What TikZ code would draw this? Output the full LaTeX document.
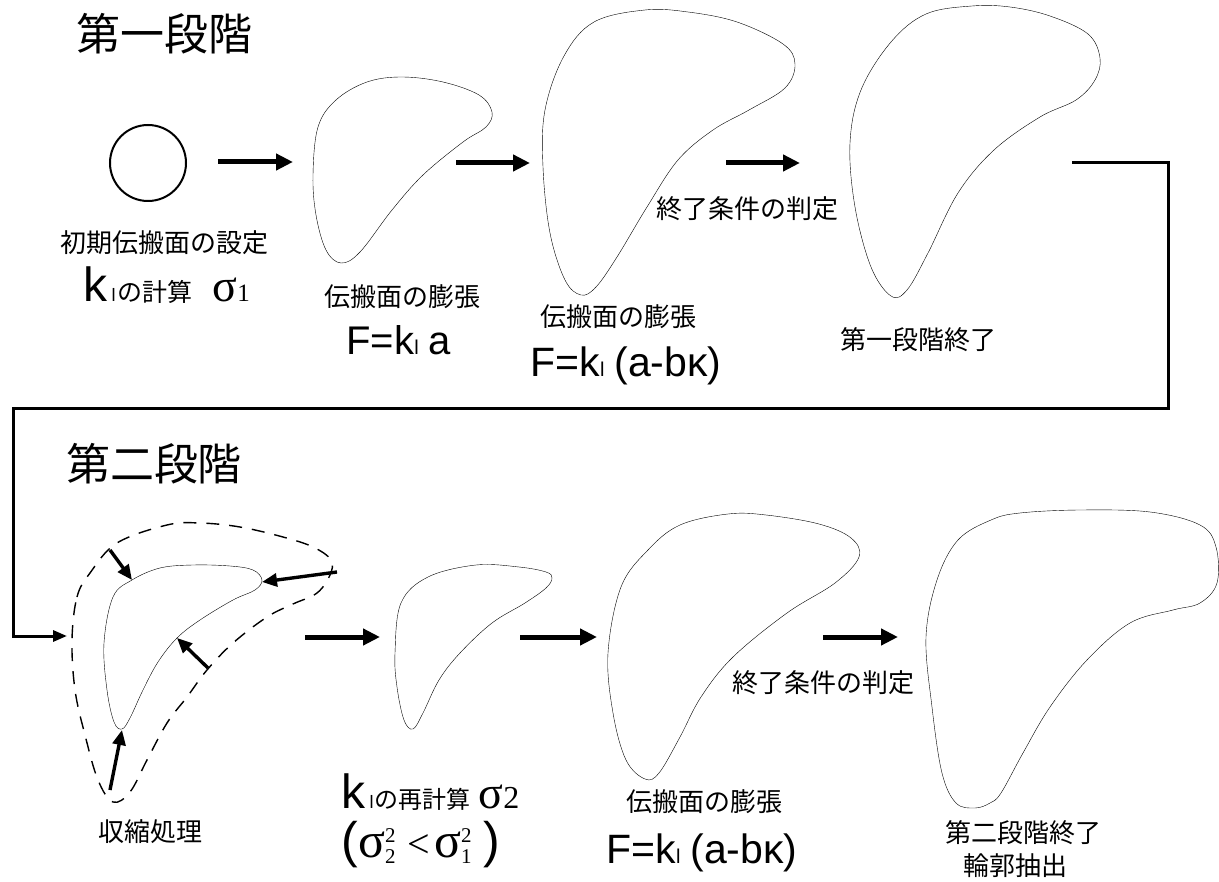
\documentclass[tikz,border=0pt]{standalone}
\usepackage{fontspec}
\usepackage{graphicx}
\usepackage{tikz}
\usetikzlibrary{arrows.meta}
\setmainfont{Liberation Sans}
\newfontfamily\jpfont{Noto Sans CJK JP}
\newfontfamily\tms{Liberation Serif}
\newcommand\fsz[1]{\fontsize{#1}{#1}\selectfont}
% sigma with stacked index and square
\newcommand\sigsq[1]{σ\rlap{\raisebox{-6pt}{\fsz{21}#1}}\raisebox{15pt}{\fsz{21}2}}

\begin{document}
\begin{tikzpicture}[x=1pt,y=-1pt,
  outline/.style={line width=2pt,smooth cycle,tension=0.6},
  fat/.style={line width=5pt,-{Triangle[length=17pt,width=16pt]}},
  shrink/.style={line width=3.4pt,-{Triangle[length=15pt,width=13pt]}},
  jp/.style={font=\jpfont\fsz{26}}]
\useasboundingbox (0,0) rectangle (1219,882);

% --- first stage
\node[font=\jpfont\fsz{44}] (st1) at (164,34) {第一段階};
\node[draw,circle,line width=2pt,minimum size=76pt,inner sep=0pt] (c0) at (148,163) {};
\draw plot[outline] coordinates {(313,175) (318,127) (336,100) (367,82) (402,77) (443,82) (479,95) (492,112) (486,127) (463,142) (423,175) (392,210) (360,252) (341,263) (326,250) (316,215)};
\draw plot[outline] coordinates {(645,10) (594,22) (564,56) (545,110) (543,167) (550,233) (565,280) (581,295) (596,287) (617,257) (647,207) (678,160) (713,130) (749,110) (785,88) (795,64) (783,44) (737,22) (688,12)};
\draw plot[outline] coordinates {(972,6) (926,14) (891,42) (861,90) (850,143) (855,207) (871,267) (891,296) (907,290) (928,253) (958,193) (994,150) (1040,117) (1076,100) (1095,80) (1100,58) (1088,34) (1050,16) (1010,7)};

\coordinate (p1) at (218,162); \coordinate (q1) at (293,162);
\coordinate (p2) at (456,163); \coordinate (q2) at (530,163);
\coordinate (p3) at (726,163); \coordinate (q3) at (800,163);
\draw[fat] (p1)--(q1);
\draw[fat] (p2)--(q2);
\draw[fat] (p3)--(q3);

\node[jp] (init) at (164,243) {初期伝搬面の設定};
\node[anchor=base west] (kcalc) at (80,302) {\fsz{48}k\hspace{4pt}\fsz{18}l\hspace{2pt}\jpfont\fsz{25}の計算\hspace{20pt}\tms\fsz{46}σ\fsz{25}1};
\node[jp] (exp1) at (402,297) {伝搬面の膨張};
\node[anchor=base west] (fa) at (343,355) {\fsz{40}F=k\fsz{20}l\hspace{10pt}\fsz{40}a};
\node[jp] (exp2) at (618,317) {伝搬面の膨張};
\node[anchor=base west] (fab1) at (527,377) {\fsz{41}F=k\fsz{20}l\hspace{10pt}\fsz{41}(a-bκ)};
\node[jp] (judge1) at (747,209) {終了条件の判定};
\node[jp] (end1) at (918,340) {第一段階終了};

% --- link to second stage
\coordinate (from) at (1072,163);
\coordinate (to) at (67,636);
\draw[line width=3pt,-{Triangle[length=14pt,width=11pt]}] (from) -| (1168,409) -| (13,636) -- (to);

% --- second stage
\node[font=\jpfont\fsz{44}] (st2) at (154,464) {第二段階};
\draw[line width=1.4pt,dash pattern=on 13pt off 10pt,smooth cycle,tension=0.6] plot coordinates {(72,640) (77,597) (90,573) (117,543) (167,525) (200,523) (240,527) (283,537) (313,547) (331,560) (330,575) (317,593) (293,604) (267,617) (233,643) (207,670) (187,697) (167,723) (147,760) (130,792) (113,802) (98,780) (85,735) (75,690)};
\draw plot[outline] coordinates {(104,643) (113,597) (132,580) (160,568) (193,565) (230,566) (253,570) (262,580) (255,590) (233,600) (200,620) (177,638) (158,662) (143,690) (130,718) (122,729) (114,722) (107,690)};
\foreach \a/\b [count=\i] in {{110,550}/{132,580},{337,572}/{262,582},{208,668}/{177,638},{110,790}/{122,730}}{
  \coordinate (in\i) at (\a); \coordinate (on\i) at (\b);
  \draw[shrink] (in\i)--(on\i);
}
\draw plot[outline] coordinates {(395,653) (401,603) (428,577) (476,565) (519,567) (546,572) (552,578) (546,588) (525,603) (492,623) (460,653) (439,680) (423,713) (413,729) (404,720) (397,687)};
\draw plot[outline] coordinates {(728,514) (680,525) (648,550) (621,587) (608,653) (613,713) (626,760) (645,779) (659,773) (680,737) (701,697) (733,657) (787,613) (835,583) (859,557) (851,538) (819,524) (766,515)};
\draw plot[outline] coordinates {(1080,510) (1020,513) (991,520) (958,540) (937,580) (926,637) (932,707) (942,773) (956,803) (975,808) (990,803) (1001,793) (1023,753) (1050,707) (1087,660) (1130,623) (1173,610) (1200,603) (1217,583) (1216,547) (1200,525) (1150,512)};

\coordinate (p4) at (305,637); \coordinate (q4) at (380,637);
\coordinate (p5) at (520,637); \coordinate (q5) at (597,637);
\coordinate (p6) at (823,637); \coordinate (q6) at (898,637);
\draw[fat] (p4)--(q4);
\draw[fat] (p5)--(q5);
\draw[fat] (p6)--(q6);

\node[jp] (shrinkl) at (150,832) {収縮処理};
\node[anchor=base west] (krecalc) at (338,808) {\fsz{48}k\hspace{4pt}\fsz{18}l\hspace{1pt}\jpfont\fsz{24}の再計算\hspace{8pt}\tms\fsz{46}σ\fsz{32}2};
\node[anchor=base west] (ineq) at (338,857) {\fsz{50}(\tms\fsz{50}\sigsq{2}\hspace{12pt}\fsz{40}<\hspace{4pt}\fsz{50}\sigsq{1}\hspace{12pt}\rmfamily\fsz{50})};
\node[jp] (exp3) at (704,802) {伝搬面の膨張};
\node[anchor=base west] (fab2) at (603,863) {\fsz{41}F=k\fsz{20}l\hspace{10pt}\fsz{41}(a-bκ)};
\node[jp] (judge2) at (823,683) {終了条件の判定};
\node[jp] (end2) at (1023,833) {第二段階終了};
\node[jp] (contour) at (1015,866) {輪郭抽出};
\end{tikzpicture}
\end{document}
